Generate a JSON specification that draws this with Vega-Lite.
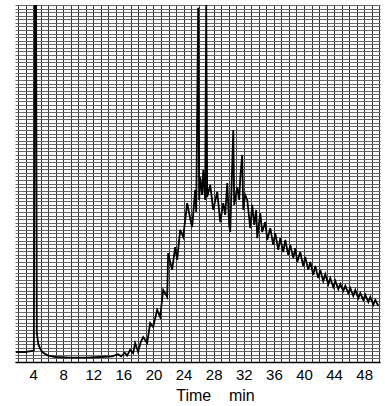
{
  "$schema": "https://vega.github.io/schema/vega-lite/v6.json",
  "width": 365,
  "height": 357,
  "padding": {"left": 15, "top": 5, "right": 5, "bottom": 0},
  "background": "white",
  "view": {"stroke": null},
  "config": {"font": "Liberation Sans"},
  "data": {"values": [
    {"t": 1.7, "v": 2.8}, {"t": 3.0, "v": 2.8}, {"t": 4.1, "v": 3.2}, {"t": 4.25, "v": 105}, {"t": 4.4, "v": 105},
    {"t": 4.5, "v": 8}, {"t": 4.7, "v": 5}, {"t": 5.0, "v": 3.5}, {"t": 5.4, "v": 2.5}, {"t": 6.0, "v": 1.8},
    {"t": 7.0, "v": 1.4}, {"t": 9.0, "v": 1.2}, {"t": 11.0, "v": 1.2}, {"t": 13.0, "v": 1.4}, {"t": 14.5, "v": 1.6},
    {"t": 15.3, "v": 2.2}, {"t": 15.7, "v": 1.6}, {"t": 16.2, "v": 2.6}, {"t": 16.5, "v": 1.8},
    {"t": 16.9, "v": 3.4}, {"t": 17.3, "v": 2.5}, {"t": 17.56, "v": 5.3}, {"t": 17.96, "v": 2.8}, {"t": 18.3, "v": 5.5},
    {"t": 18.63, "v": 7.0}, {"t": 19.16, "v": 5.3}, {"t": 19.56, "v": 10.9}, {"t": 19.96, "v": 9.8}, {"t": 20.49, "v": 14.6},
    {"t": 20.89, "v": 12.6}, {"t": 21.29, "v": 20.2}, {"t": 21.82, "v": 18.2}, {"t": 21.95, "v": 30.5}, {"t": 22.48, "v": 25.8},
    {"t": 22.88, "v": 32.2}, {"t": 23.15, "v": 28.6}, {"t": 23.55, "v": 37}, {"t": 23.95, "v": 35}, {"t": 24.48, "v": 44.5},
    {"t": 24.9, "v": 40}, {"t": 25.14, "v": 37.8},
    {"t": 25.54, "v": 48.2}, {"t": 25.68, "v": 42.0}, {"t": 25.94, "v": 99.2}, {"t": 26.07, "v": 45.4}, {"t": 26.21, "v": 51.8},
    {"t": 26.47, "v": 46.8}, {"t": 26.61, "v": 53.8}, {"t": 26.87, "v": 45.4}, {"t": 27.01, "v": 100}, {"t": 27.14, "v": 46.2},
    {"t": 27.54, "v": 49.6}, {"t": 27.94, "v": 42.6}, {"t": 28.47, "v": 47.6}, {"t": 28.87, "v": 39.2}, {"t": 29.27, "v": 44.5},
    {"t": 29.53, "v": 41.2}, {"t": 29.80, "v": 50.1}, {"t": 30.06, "v": 38.4}, {"t": 30.20, "v": 36.4}, {"t": 30.60, "v": 65.0},
    {"t": 30.73, "v": 44.0}, {"t": 31.13, "v": 49.0}, {"t": 31.39, "v": 45.4}, {"t": 31.53, "v": 51.5}, {"t": 31.79, "v": 58.0},
    {"t": 31.93, "v": 42.6}, {"t": 32.19, "v": 46.8}, {"t": 32.46, "v": 45.4}, {"t": 32.86, "v": 37.5}, {"t": 33.12, "v": 44.0},
    {"t": 33.39, "v": 38.4}, {"t": 33.65, "v": 42.6}, {"t": 33.79, "v": 34.7}, {"t": 34.19, "v": 41.7}, {"t": 34.45, "v": 36.4},
    {"t": 34.85, "v": 39.2}, {"t": 35.12, "v": 34.2}, {"t": 35.52, "v": 37.5}, {"t": 35.91, "v": 32.8}, {"t": 36.18, "v": 36.1},
    {"t": 36.58, "v": 31.4}, {"t": 36.85, "v": 34.7}, {"t": 37.24, "v": 30.8}, {"t": 37.51, "v": 34.2}, {"t": 37.91, "v": 30.0},
    {"t": 38.18, "v": 32.8}, {"t": 38.57, "v": 29.1}, {"t": 38.84, "v": 31.9}, {"t": 39.11, "v": 28.0}, {"t": 39.50, "v": 30.8},
    {"t": 39.90, "v": 26.9}, {"t": 40.17, "v": 29.4}, {"t": 40.57, "v": 25.8}, {"t": 40.84, "v": 28.0}, {"t": 41.23, "v": 24.4},
    {"t": 41.50, "v": 26.9}, {"t": 41.90, "v": 23.5}, {"t": 42.16, "v": 25.8}, {"t": 42.56, "v": 22.7}, {"t": 42.83, "v": 24.6},
    {"t": 43.23, "v": 21.8}, {"t": 43.49, "v": 23.5}, {"t": 43.89, "v": 21.0}, {"t": 44.16, "v": 22.7}, {"t": 44.56, "v": 20.4},
    {"t": 44.82, "v": 21.8}, {"t": 45.22, "v": 19.9}, {"t": 45.49, "v": 21.3}, {"t": 45.89, "v": 19.3}, {"t": 46.15, "v": 20.7},
    {"t": 46.55, "v": 18.5}, {"t": 46.82, "v": 20.2}, {"t": 47.22, "v": 17.9}, {"t": 47.48, "v": 19.3}, {"t": 47.88, "v": 17.4},
    {"t": 48.15, "v": 18.8}, {"t": 48.55, "v": 16.8}, {"t": 48.81, "v": 18.2}, {"t": 49.21, "v": 16.0}, {"t": 49.48, "v": 17.4},
    {"t": 49.88, "v": 15.7}
  ]},
  "mark": {"type": "line", "color": "black", "strokeWidth": 1.8, "clip": true},
  "encoding": {
    "x": {
      "field": "t", "type": "quantitative",
      "scale": {"domain": [1.6, 50.1], "nice": false, "zero": false},
      "axis": {
        "values": [2,3,4,5,6,7,8,9,10,11,12,13,14,15,16,17,18,19,20,21,22,23,24,25,26,27,28,29,30,31,32,33,34,35,36,37,38,39,40,41,42,43,44,45,46,47,48,49,50],
        "labelExpr": "datum.value % 4 === 0 ? datum.label : ''",
        "ticks": false,
        "domain": true, "domainColor": "black", "domainWidth": 1.5,
        "grid": true, "gridColor": "#333333", "gridWidth": 1,
        "labelFontSize": 15, "labelColor": "black", "labelPadding": 5, "labelFlush": false,
        "title": "Time\u00a0\u00a0\u00a0\u00a0min", "titleFontSize": 16, "titleFontWeight": "normal", "titleColor": "black",
        "titlePadding": 5, "titleX": 200
      }
    },
    "y": {
      "field": "v", "type": "quantitative",
      "scale": {"domain": [0, 100], "nice": false},
      "axis": {
        "values": [0,1,2,3,4,5,6,7,8,9,10,11,12,13,14,15,16,17,18,19,20,21,22,23,24,25,26,27,28,29,30,31,32,33,34,35,36,37,38,39,40,41,42,43,44,45,46,47,48,49,50,51,52,53,54,55,56,57,58,59,60,61,62,63,64,65,66,67,68,69,70,71,72,73,74,75,76,77,78,79,80,81,82,83,84,85,86,87,88,89,90,91,92,93,94,95,96,97,98,99,100],
        "labels": false, "ticks": false, "domain": false, "title": null,
        "grid": true, "gridColor": "#666666", "gridWidth": 1
      }
    }
  }
}
